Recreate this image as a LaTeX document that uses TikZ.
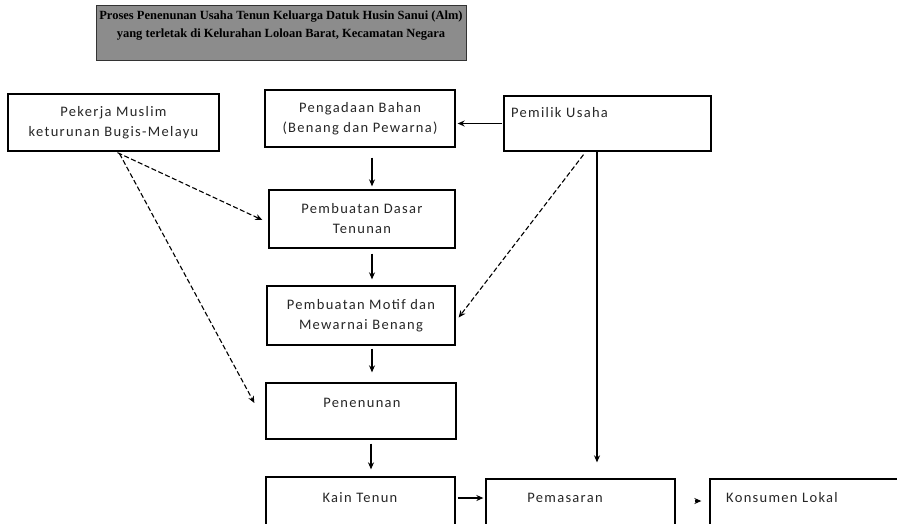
\documentclass[tikz,border=0pt]{standalone}
\usepackage{fontspec}
\setmainfont{Carlito}
\newfontfamily\boxfont[LetterSpace=9]{Carlito}
\newfontfamily\titlefont{Liberation Serif}
\usetikzlibrary{arrows.meta,calc}
\tikzset{
  box/.style={draw=black, line width=1.3pt, rectangle, inner sep=0pt, align=center,
    font=\boxfont\fontsize{14.5}{20}\selectfont, text=black!85},
  txt/.style={inner sep=0pt, align=center, font=\boxfont\fontsize{14.5}{20}\selectfont, text=black!85},
  arr/.style={line width=1.3pt, -{Stealth[length=7pt,width=6pt]}},
  darr/.style={line width=1.1pt, dash pattern=on 5pt off 2.5pt, -{Stealth[length=7pt,width=6pt]}},
}
\begin{document}
\begin{tikzpicture}[x=1pt,y=-1pt]
\useasboundingbox (0,0) rectangle (897,523);
\clip (0,0) rectangle (897,523);
% title
\node[draw=black!80, line width=1pt, fill=black!45, minimum width=370pt, minimum height=55pt, inner sep=0pt] (title) at (281,32.5) {};
\node[inner sep=0pt, align=center, font=\titlefont\bfseries\fontsize{12.5}{18}\selectfont, anchor=north] (titletext) at (281,11)
  {Proses Penenunan Usaha Tenun Keluarga Datuk Husin Sanui (Alm)\\yang terletak di Kelurahan Loloan Barat, Kecamatan Negara};
% boxes
\node[box, minimum width=211pt, minimum height=57pt] (pekerja) at (113.5,122.5) {Pekerja Muslim\\keturunan Bugis-Melayu};
\node[box, minimum width=190pt, minimum height=57pt] (pengadaan) at (360,118.5) {Pengadaan Bahan\\(Benang dan Pewarna)};
\node[box, minimum width=207pt, minimum height=55pt] (pemilik) at (607.5,123.5) {};
\node[txt, anchor=west] (pemiliktext) at (511,113) {Pemilik Usaha};
\node[box, minimum width=186pt, minimum height=58pt] (dasar) at (362,219) {Pembuatan Dasar\\Tenunan};
\node[box, minimum width=188pt, minimum height=59pt] (motif) at (361,315.5) {Pembuatan Motif dan\\Mewarnai Benang};
\node[box, minimum width=190pt, minimum height=56pt] (penenunan) at (361,411) {};
\node[txt] (penenunantext) at (362,403) {Penenunan};
\node[box, minimum width=189pt, minimum height=60pt] (kain) at (360.5,507) {};
\node[txt] (kaintext) at (360,498) {Kain Tenun};
\node[box, minimum width=189pt, minimum height=60pt] (pemasaran) at (580.5,509) {};
\node[txt] (pemasarantext) at (565,498) {Pemasaran};
\node[box, minimum width=200pt, minimum height=60pt] (konsumen) at (810,509) {};
\node[txt] (konsumentext) at (782,498) {Konsumen Lokal};
% solid arrows
\draw[arr, shorten <=1pt, shorten >=2pt] (pemilik.west) -- (pengadaan.east |- pemilik.west);
\draw[arr, shorten <=10pt, shorten >=3pt] ([xshift=12pt]pengadaan.south) -- ([xshift=12pt]pengadaan.south |- dasar.north);
\draw[arr, shorten <=5pt, shorten >=6pt] ([xshift=10pt]dasar.south) -- ([xshift=10pt]dasar.south |- motif.north);
\draw[arr, shorten <=3pt, shorten >=10pt] ([xshift=11pt]motif.south) -- ([xshift=11pt]motif.south |- penenunan.north);
\draw[arr, shorten <=4pt, shorten >=7pt] ([xshift=10pt]penenunan.south) -- ([xshift=10pt]penenunan.south |- kain.north);
\draw[arr, shorten <=2pt, shorten >=2pt] (kain.east |- kaintext) -- (pemasaran.west |- kaintext);
\draw[arr] ([xshift=-10.5pt]pemilik.south) -- ([xshift=-10.5pt, yshift=16pt]pemilik.south |- pemasaran.north);
\draw[arr, shorten <=19pt, shorten >=8pt] (pemasaran.east |- 0,501) -- (konsumen.west |- 0,501);
% dashed arrows
\draw[darr] ([xshift=4pt,yshift=-1pt]pekerja.south) -- ([xshift=-6pt,yshift=-1pt]dasar.west);
\draw[darr] ([xshift=6pt,yshift=-2pt]pekerja.south) -- ([xshift=-11pt,yshift=8pt]penenunan.west);
\draw[darr] ([xshift=-24pt,yshift=-3pt]pemilik.south) -- ([xshift=3pt,yshift=-2pt]motif.east);
\end{tikzpicture}
\end{document}
